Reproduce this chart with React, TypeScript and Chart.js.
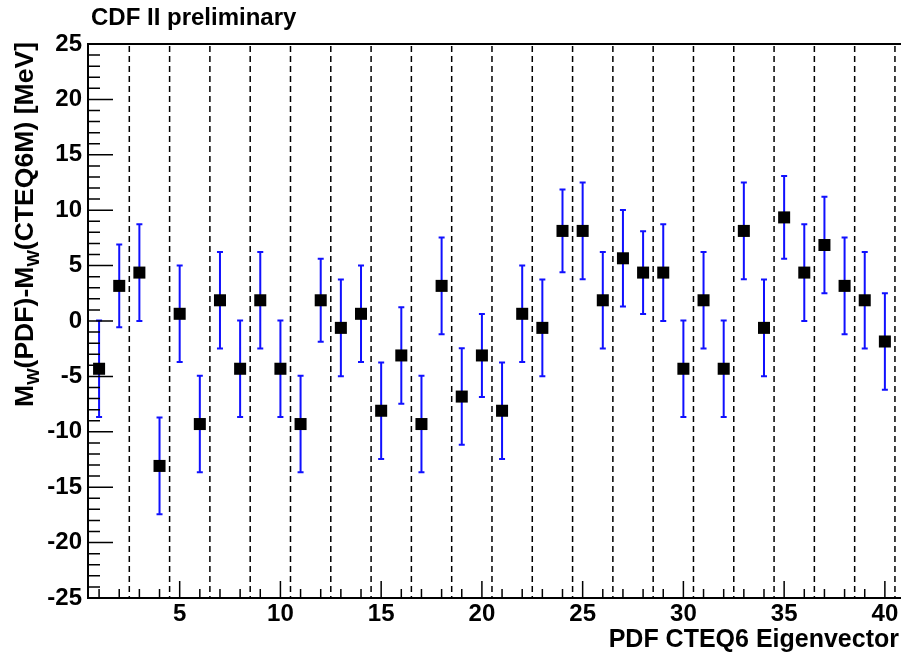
import React, { useEffect, useRef } from "react";
import { Chart, registerables } from "chart.js";

Chart.register(...registerables);

// ---- data ----
const eigenvectors = [
  1, 2, 3, 4, 5, 6, 7, 8, 9, 10,
  11, 12, 13, 14, 15, 16, 17, 18, 19, 20,
  21, 22, 23, 24, 25, 26, 27, 28, 29, 30,
  31, 32, 33, 34, 35, 36, 37, 38, 39, 40,
];

const deltaMw = [
  -4.31, 3.17, 4.37, -13.08, 0.65, -9.3, 1.87, -4.31, 1.87, -4.31,
  -9.3, 1.87, -0.62, 0.65, -8.1, -3.11, -9.3, 3.17, -6.82, -3.11,
  -8.1, 0.65, -0.62, 8.13, 8.13, 1.87, 5.66, 4.37, 4.37, -4.31,
  1.87, -4.31, 8.13, -0.62, 9.35, 4.37, 6.86, 3.17, 1.87, -1.85,
];

const deltaErr = [
  4.36, 3.74, 4.36, 4.36, 4.36, 4.36, 4.36, 4.36, 4.36, 4.36,
  4.36, 3.74, 4.36, 4.36, 4.36, 4.36, 4.36, 4.36, 4.36, 3.74,
  4.36, 4.36, 4.36, 3.74, 4.36, 4.36, 4.36, 3.74, 4.36, 4.36,
  4.36, 4.36, 4.36, 4.36, 3.74, 4.36, 4.36, 4.36, 4.36, 4.36,
];

const dividers = [
  2.5, 4.5, 6.5, 8.5, 10.5, 12.5, 14.5, 16.5, 18.5, 20.5,
  22.5, 24.5, 26.5, 28.5, 30.5, 32.5, 34.5, 36.5, 38.5, 40.5,
];

const xTickValues = [5, 10, 15, 20, 25, 30, 35, 40];
const yTickValues = [-25, -20, -15, -10, -5, 0, 5, 10, 15, 20, 25];
const xMinorTicks = eigenvectors;
const yMinorTicks = [
  -24, -23, -22, -21, -19, -18, -17, -16, -14, -13, -12, -11, -9, -8, -7, -6,
  -4, -3, -2, -1, 1, 2, 3, 4, 6, 7, 8, 9, 11, 12, 13, 14, 16, 17, 18, 19, 21, 22, 23, 24,
];

const chartTitle = "CDF II preliminary";
const xTitle = "PDF CTEQ6 Eigenvector";
const yTitleParts: [string, boolean][] = [
  ["M", false],
  ["W", true],
  ["(PDF)-M", false],
  ["W", true],
  ["(CTEQ6M) [MeV]", false],
];

const W = 901;
const H = 658;
const FAMILY = '"Liberation Sans", Arial, Helvetica, sans-serif';

const decorPlugin = {
  id: "decor",
  beforeDatasetsDraw(chart: any) {
    const { ctx, chartArea: a, scales } = chart;
    const x = scales.x;
    const y = scales.y;
    ctx.save();
    // dashed separators
    ctx.strokeStyle = "#000";
    ctx.lineWidth = 1.5;
    ctx.setLineDash([6, 4]);
    for (const d of dividers) {
      const px = x.getPixelForValue(d);
      ctx.beginPath();
      ctx.moveTo(px, a.top + 2);
      ctx.lineTo(px, a.bottom);
      ctx.stroke();
    }
    ctx.setLineDash([]);
    // error bars
    ctx.strokeStyle = "#1010ff";
    ctx.lineWidth = 2;
    eigenvectors.forEach((e, i) => {
      const px = x.getPixelForValue(e);
      const top = y.getPixelForValue(deltaMw[i] + deltaErr[i]);
      const bot = y.getPixelForValue(deltaMw[i] - deltaErr[i]);
      ctx.beginPath();
      ctx.moveTo(px, top);
      ctx.lineTo(px, bot);
      ctx.moveTo(px - 3, top);
      ctx.lineTo(px + 3, top);
      ctx.moveTo(px - 3, bot);
      ctx.lineTo(px + 3, bot);
      ctx.stroke();
    });
    ctx.restore();
  },
  afterDraw(chart: any) {
    const { ctx, chartArea: a, scales } = chart;
    const x = scales.x;
    const y = scales.y;
    ctx.save();
    // frame
    ctx.strokeStyle = "#000";
    ctx.lineWidth = 2;
    ctx.beginPath();
    ctx.moveTo(a.right, a.top);
    ctx.lineTo(a.left, a.top);
    ctx.lineTo(a.left, a.bottom);
    ctx.lineTo(a.right, a.bottom);
    ctx.stroke();
    // ticks (inward)
    ctx.lineWidth = 1.5;
    ctx.beginPath();
    for (const v of xMinorTicks) {
      const px = x.getPixelForValue(v);
      const len = xTickValues.includes(v) ? 17 : 9;
      ctx.moveTo(px, a.bottom);
      ctx.lineTo(px, a.bottom - len);
    }
    for (const v of yTickValues) {
      const py = y.getPixelForValue(v);
      ctx.moveTo(a.left, py);
      ctx.lineTo(a.left + 25, py);
    }
    for (const v of yMinorTicks) {
      const py = y.getPixelForValue(v);
      ctx.moveTo(a.left, py);
      ctx.lineTo(a.left + 12, py);
    }
    ctx.stroke();

    // titles
    ctx.fillStyle = "#000";
    ctx.font = `bold 24px ${FAMILY}`;
    ctx.textAlign = "left";
    ctx.textBaseline = "alphabetic";
    ctx.fillText(chartTitle, 91, 25);

    ctx.font = `bold 25px ${FAMILY}`;
    ctx.textAlign = "right";
    ctx.fillText(xTitle, 899, 647);

    // y title rotated with subscripts
    const bigFont = `bold 26px ${FAMILY}`;
    const subFont = `bold 17px ${FAMILY}`;
    let total = 0;
    const widths = yTitleParts.map(([t, sub]) => {
      ctx.font = sub ? subFont : bigFont;
      const w = ctx.measureText(t).width;
      total += w;
      return w;
    });
    ctx.translate(33, 42);
    ctx.rotate(-Math.PI / 2);
    const stretch = 365 / total;
    ctx.scale(stretch, 1);
    ctx.textAlign = "left";
    let cx = -total;
    yTitleParts.forEach(([t, sub], i) => {
      ctx.font = sub ? subFont : bigFont;
      ctx.fillText(t, cx, sub ? 6 : 0);
      cx += widths[i];
    });
    ctx.restore();
  },
};

export default function App() {
  const ref = useRef<HTMLCanvasElement | null>(null);
  useEffect(() => {
    if (!ref.current) return;
    const chart = new Chart(ref.current, {
      type: "scatter",
      data: {
        datasets: [
          {
            data: eigenvectors.map((e, i) => ({ x: e, y: deltaMw[i] })),
            pointStyle: "rect",
            pointRadius: 8.5,
            pointHoverRadius: 8.5,
            pointBackgroundColor: "#000",
            pointBorderColor: "#000",
            pointBorderWidth: 0,
            showLine: false,
          },
        ],
      },
      options: {
        responsive: false,
        animation: false,
        devicePixelRatio: 1,
        layout: { autoPadding: false, padding: { top: 44, left: 0, right: 0, bottom: 0 } },
        plugins: {
          legend: { display: false },
          title: { display: false },
          tooltip: { enabled: false },
        },
        scales: {
          x: {
            type: "linear",
            min: 0.45,
            max: 40.8,
            grid: { display: false, drawTicks: false },
            border: { display: false },
            afterBuildTicks: (s: any) => {
              s.ticks = xTickValues.map((v) => ({ value: v }));
            },
            afterFit: (s: any) => {
              s.height = 60;
              s.paddingLeft = 0;
              s.paddingRight = 0;
            },
            ticks: {
              autoSkip: false,
              maxRotation: 0,
              padding: 2,
              color: "#000",
              font: { family: FAMILY, weight: "bold", size: 24, lineHeight: 1.2 },
              callback: (v: any) => String(v),
            },
          },
          y: {
            type: "linear",
            min: -25,
            max: 25,
            grid: { display: false, drawTicks: false },
            border: { display: false },
            afterBuildTicks: (s: any) => {
              s.ticks = yTickValues.map((v) => ({ value: v }));
            },
            afterFit: (s: any) => {
              s.width = 88;
              s.paddingTop = 0;
              s.paddingBottom = 0;
            },
            ticks: {
              autoSkip: false,
              padding: 6,
              color: "#000",
              font: { family: FAMILY, weight: "bold", size: 24, lineHeight: 1.2 },
              callback: (v: any) => String(v),
            },
          },
        },
      },
      plugins: [decorPlugin],
    } as any);
    return () => chart.destroy();
  }, []);
  return (
    <div style={{ position: "fixed", left: 0, top: 0, width: W, height: H, background: "#fff", overflow: "hidden" }}>
      <canvas ref={ref} width={W} height={H} style={{ display: "block", width: W, height: H }} />
    </div>
  );
}
